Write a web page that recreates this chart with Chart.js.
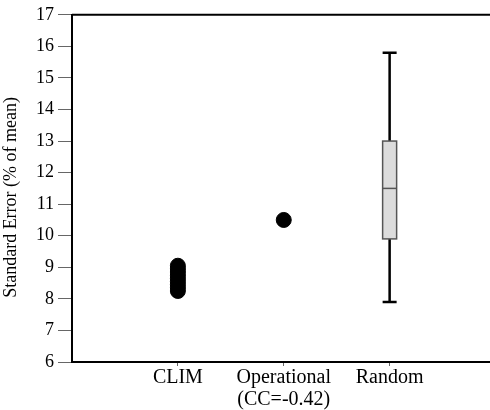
<!DOCTYPE html>
<html>
<head>
<meta charset="utf-8">
<script src="https://cdn.jsdelivr.net/npm/chart.js@4.4.1/dist/chart.umd.min.js"></script>
<style>
html,body{margin:0;padding:0;background:#fff;overflow:hidden;width:490px;height:410px;}
#wrap{width:490px;height:410px;overflow:hidden;}
canvas{display:block;}
</style>
</head>
<body>
<div id="wrap"><canvas id="c" width="504" height="410"></canvas></div>
<script>
const categories = [['CLIM'], ['Operational', '(CC=-0.42)'], ['Random']];
const categoryPositions = [1, 2, 3];
const climValues = [8.25, 8.35, 8.45, 8.55, 8.65, 8.75, 8.85, 8.95, 9.05];
const operationalValues = [10.5];
const randomBox = { min: 7.9, q1: 9.9, median: 11.5, q3: 13.0, max: 15.8 };
const yTicks = [6, 7, 8, 9, 10, 11, 12, 13, 14, 15, 16, 17];
const yTitle = 'Standard Error (% of mean)';

const family = '"Liberation Serif", "Times New Roman", serif';
const yFont = { family: family, size: 18 };
const xFont = { family: family, size: 20, lineHeight: 1.1 };

const boxPlugin = {
  id: 'boxPlugin',
  afterDatasetsDraw(chart) {
    const { ctx, scales: { x, y }, chartArea } = chart;
    const cx = x.getPixelForValue(categoryPositions[2]);
    const half = 7;
    const pMin = y.getPixelForValue(randomBox.min);
    const pQ1 = y.getPixelForValue(randomBox.q1);
    const pMed = y.getPixelForValue(randomBox.median);
    const pQ3 = y.getPixelForValue(randomBox.q3);
    const pMax = y.getPixelForValue(randomBox.max);
    ctx.save();
    ctx.strokeStyle = '#000';
    ctx.lineWidth = 2.5;
    ctx.beginPath();
    ctx.moveTo(cx, pMax); ctx.lineTo(cx, pQ3);
    ctx.moveTo(cx, pQ1); ctx.lineTo(cx, pMin);
    ctx.moveTo(cx - half, pMax); ctx.lineTo(cx + half, pMax);
    ctx.moveTo(cx - half, pMin); ctx.lineTo(cx + half, pMin);
    ctx.stroke();
    ctx.fillStyle = '#dcdcdc';
    ctx.fillRect(cx - half, pQ3, half * 2, pQ1 - pQ3);
    ctx.strokeStyle = '#555';
    ctx.lineWidth = 1.5;
    ctx.strokeRect(cx - half, pQ3, half * 2, pQ1 - pQ3);
    ctx.beginPath();
    ctx.moveTo(cx - half, pMed); ctx.lineTo(cx + half, pMed);
    ctx.stroke();
    ctx.strokeStyle = '#000';
    ctx.lineWidth = 2;
    ctx.beginPath();
    ctx.moveTo(chartArea.left, chartArea.top);
    ctx.lineTo(chartArea.right, chartArea.top);
    ctx.stroke();
    ctx.restore();
  }
};

new Chart(document.getElementById('c'), {
  type: 'scatter',
  data: {
    datasets: [
      {
        label: 'CLIM',
        data: climValues.map(v => ({ x: categoryPositions[0], y: v })),
        backgroundColor: '#000', borderColor: '#000', pointRadius: 7.5, pointHoverRadius: 7.5
      },
      {
        label: 'Operational',
        data: operationalValues.map(v => ({ x: categoryPositions[1], y: v })),
        backgroundColor: '#000', borderColor: '#000', pointRadius: 7.5, pointHoverRadius: 7.5
      }
    ]
  },
  options: {
    responsive: false,
    animation: false,
    events: [],
    layout: { padding: { top: 14, right: 0, left: 0, bottom: 0 } },
    plugins: { legend: { display: false }, tooltip: { enabled: false }, title: { display: false } },
    scales: {
      x: {
        type: 'linear', min: 0, max: 4,
        afterBuildTicks: s => { s.ticks = categoryPositions.map(v => ({ value: v })); },
        afterFit: s => { s.height = 48; },
        ticks: {
          color: '#000', font: xFont, maxRotation: 0, padding: 1,
          callback: (v) => { const i = categoryPositions.indexOf(v); return i >= 0 ? categories[i] : ''; }
        },
        grid: { drawOnChartArea: false, drawTicks: true, tickLength: 4, color: '#666' },
        border: { color: '#000', width: 2 }
      },
      y: {
        min: 6, max: 17,
        afterBuildTicks: s => { s.ticks = yTicks.map(v => ({ value: v })); },
        afterFit: s => { s.width = 72; },
        ticks: { color: '#000', font: yFont, padding: 4 },
        grid: { drawOnChartArea: false, drawTicks: true, tickLength: 14, color: '#666' },
        border: { color: '#000', width: 2 },
        title: { display: true, text: yTitle + '\u00a0\u00a0\u00a0\u00a0', color: '#000', font: yFont, padding: { top: 0, bottom: 2 } }
      }
    }
  },
  plugins: [boxPlugin]
});
</script>
</body>
</html>
